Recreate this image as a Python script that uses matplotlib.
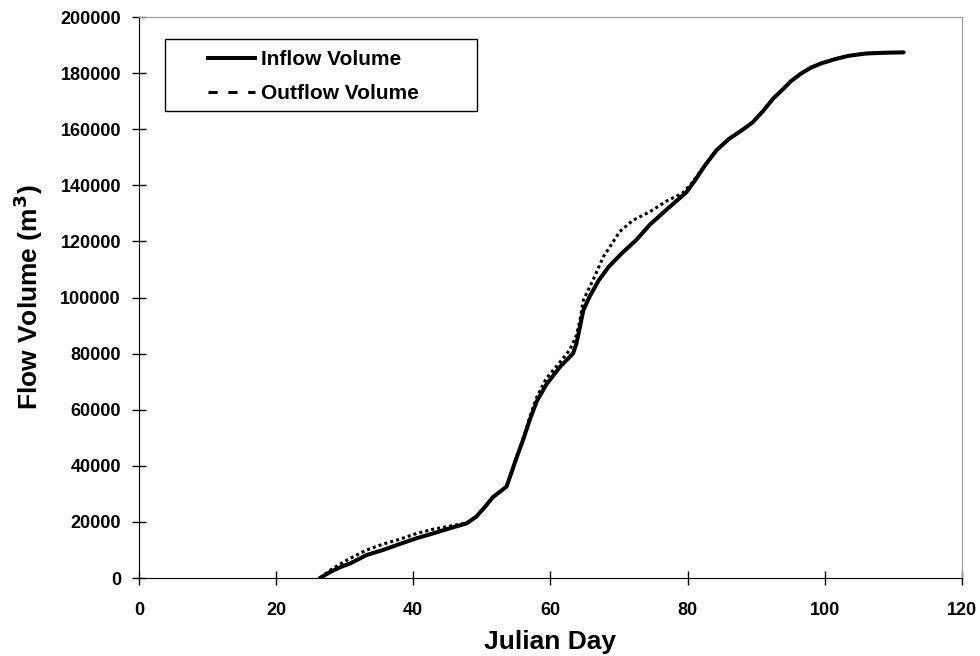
import matplotlib
matplotlib.use("Agg")
import matplotlib.pyplot as plt
from matplotlib.lines import Line2D
from matplotlib.patches import Rectangle

plt.rcParams['font.family'] = ['Liberation Sans', 'DejaVu Sans']
plt.rcParams['font.weight'] = 'bold'

# cumulative inflow volume (m3) by julian day
in_day = [26.4, 28, 29.5, 30.8, 33.2, 35.6, 38.0, 40.5, 42.9, 45.3, 47.8,
          49.2, 50.5, 51.6, 53.6, 54.3, 55.0, 56.0, 57.0, 58.0, 59.4, 61.4,
          63.3, 63.8, 64.3, 64.8, 65.7, 67.0, 68.5, 70.5, 72.5, 74.5, 77.0,
          79.8, 81.0, 82.5, 84.2, 86.0, 88.0, 89.5, 91.0, 92.5, 94.0, 95.0,
          96.5, 98.0, 99.5, 101.5, 103.5, 106.0, 109.0, 111.5]
in_vol = [0, 2300, 4000, 5200, 8200, 10000, 12100, 14200, 15900, 17700,
          19500, 21900, 25500, 28800, 32600, 37500, 42500, 49200, 56500,
          63000, 69000, 75300, 80100, 83700, 89600, 95500, 100300, 106000,
          111000, 116000, 120500, 126000, 131500, 137500, 141500, 147000,
          152500, 156500, 159800, 162500, 166500, 171000, 174500, 177000,
          179800, 182000, 183500, 185000, 186200, 187000, 187300, 187400]

# cumulative outflow volume (m3)
out_day = [26.4, 28, 29.5, 30.8, 33.2, 35.6, 38.0, 40.5, 42.9, 45.3, 47.8,
           49.2, 50.5, 51.6, 53.6, 54.3, 55.0, 56.0, 57.0, 58.0, 59.4, 61.4,
           62.8, 63.8, 64.3, 64.8, 66.2, 67.7, 70.1, 72.0, 74.5, 77.0, 79.3,
           80.5, 82.5, 84.2, 86.0, 88.0, 89.5, 91.0, 92.5, 94.0, 95.0, 96.5,
           98.0, 99.5, 101.5, 103.5, 106.0, 109.0, 111.5]
out_vol = [0, 3000, 5200, 7000, 10000, 12100, 13800, 15900, 17400, 18500,
           19600, 21900, 25500, 28800, 32600, 37500, 42500, 49500, 57500,
           64500, 71200, 77000, 81300, 86600, 92000, 99100, 106200, 114500,
           123500, 127500, 130600, 134500, 137300, 140500, 147000, 152500,
           156500, 159800, 162500, 166500, 171000, 174500, 177000, 179800,
           182000, 183500, 185000, 186200, 187000, 187300, 187400]

fig = plt.figure(figsize=(9.8, 6.56), dpi=100)
ax = fig.add_axes([0.1418, 0.1189, 0.8398, 0.8551])

ax.plot(out_day, out_vol, color='black', lw=2.2, ls=(0, (1, 1)), zorder=2)
ax.plot(in_day, in_vol, color='black', lw=2.9, solid_capstyle='round',
        solid_joinstyle='round', zorder=3)

ax.set_xlim(0, 120)
ax.set_ylim(0, 200000)
ax.set_xticks(range(0, 121, 20))
ax.set_yticks(range(0, 200001, 20000))
ax.tick_params(direction='inout', length=10, width=1, labelsize=13,
               top=False, right=False, color='black')
ax.tick_params(axis='x', pad=12)
ax.tick_params(axis='y', pad=8)
for lbl in ax.get_xticklabels() + ax.get_yticklabels():
    lbl.set_fontweight('bold')

ax.spines['left'].set_color('black')
ax.spines['bottom'].set_color('black')
ax.spines['top'].set_color('#999999')
ax.spines['right'].set_color('#999999')

ax.set_xlabel('Julian Day', fontsize=19, fontweight='bold', labelpad=8)
ax.set_ylabel('Flow Volume (m$^{\\mathbf{3}}$)', fontsize=19,
              fontweight='bold', labelpad=11)

# legend: frameless entries inside a hand-placed box
frame = Rectangle((0.0316, 0.8324), 0.3791, 0.1284, transform=ax.transAxes,
                  facecolor='white', edgecolor='black', lw=1, zorder=4)
ax.add_patch(frame)
handles = [Line2D([], [], color='black', lw=2.9),
           Line2D([], [], color='black', lw=2.2, dashes=(3, 3.5))]
leg = ax.legend(handles, ['Inflow Volume', 'Outflow Volume'],
                loc='upper left', bbox_to_anchor=(0.0838, 0.941),
                fontsize=15, frameon=False, handlelength=2.25,
                borderpad=0, labelspacing=0.72, handletextpad=0.3,
                borderaxespad=0)
leg.set_zorder(5)
for t in leg.get_texts():
    t.set_fontweight('bold')

fig.savefig('out.png', dpi=100)
